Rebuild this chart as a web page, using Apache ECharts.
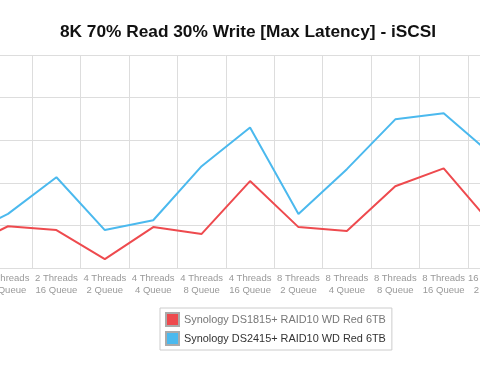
<!DOCTYPE html>
<html>
<head>
<meta charset="utf-8">
<script src="https://cdn.jsdelivr.net/npm/echarts@6/dist/echarts.min.js"></script>
<style>html,body{margin:0;padding:0;background:#fff;overflow:hidden;width:480px;height:370px;position:relative}#c{position:absolute;left:-65px;top:0;width:584px;height:370px}</style>
</head>
<body>
<div id="c"></div>
<script>
var titleText = "8K 70% Read 30% Write [Max Latency] - iSCSI";
var categories = ["2 Threads\n4 Queue","2 Threads\n8 Queue","2 Threads\n16 Queue","4 Threads\n2 Queue","4 Threads\n4 Queue","4 Threads\n8 Queue","4 Threads\n16 Queue","8 Threads\n2 Queue","8 Threads\n4 Queue","8 Threads\n8 Queue","8 Threads\n16 Queue","16 Threads\n2 Queue"];
var seriesNames = ["Synology DS1815+ RAID10 WD Red 6TB","Synology DS2415+ RAID10 WD Red 6TB"];
var ds1815 = [42, 98, 89, 21, 96, 80, 204, 96, 87, 192, 234, 101];
var ds2415 = [70, 127, 213, 89, 112, 239, 330, 127, 232, 349, 363, 265];
var yTicks = {min: 0, max: 500, interval: 100};

var chart = echarts.init(document.getElementById('c'));
chart.setOption({
  animation: false,
  title: {
    text: titleText, left: 308, top: 19, textAlign: 'center',
    textStyle: {fontFamily: 'Liberation Sans', fontSize: 17.3, fontWeight: 'bold', color: '#111'}
  },
  legend: {
    orient: 'vertical', left: 225, top: 308,
    padding: [4, 6, 4, 5], itemGap: 4,
    borderColor: '#ccc', borderWidth: 1,
    itemWidth: 13, itemHeight: 13, icon: 'rect',
    textStyle: {fontFamily: 'Liberation Sans', fontSize: 10.9, color: '#333'},
    data: [
      {name: seriesNames[0], textStyle: {color: '#777'}},
      {name: seriesNames[1], textStyle: {color: '#333'}}
    ]
  },
  grid: {left: 0.4, right: 0, top: 55, bottom: 102, containLabel: false},
  xAxis: {
    type: 'category', data: categories, boundaryGap: true,
    axisLine: {show: true, lineStyle: {color: '#ddd'}},
    axisTick: {show: false},
    splitLine: {show: true, lineStyle: {color: '#ddd', width: 1}},
    axisLabel: {interval: 0, color: '#999', fontFamily: 'Liberation Sans', fontSize: 9.5, lineHeight: 12, margin: 4}
  },
  yAxis: {
    type: 'value', min: yTicks.min, max: yTicks.max, interval: yTicks.interval,
    axisLabel: {show: false}, axisLine: {show: false}, axisTick: {show: false},
    splitLine: {lineStyle: {color: '#ddd', width: 1}}
  },
  series: [
    {name: seriesNames[0], type: 'line', data: ds1815, showSymbol: false, symbol: 'none',
     lineStyle: {color: '#ee4a4e', width: 2}, itemStyle: {color: '#ee4a4e', borderColor: '#aaa', borderWidth: 1}},
    {name: seriesNames[1], type: 'line', data: ds2415, showSymbol: false, symbol: 'none',
     lineStyle: {color: '#4bb9ee', width: 2}, itemStyle: {color: '#4bb9ee', borderColor: '#aaa', borderWidth: 1}}
  ]
});
</script>
</body>
</html>
